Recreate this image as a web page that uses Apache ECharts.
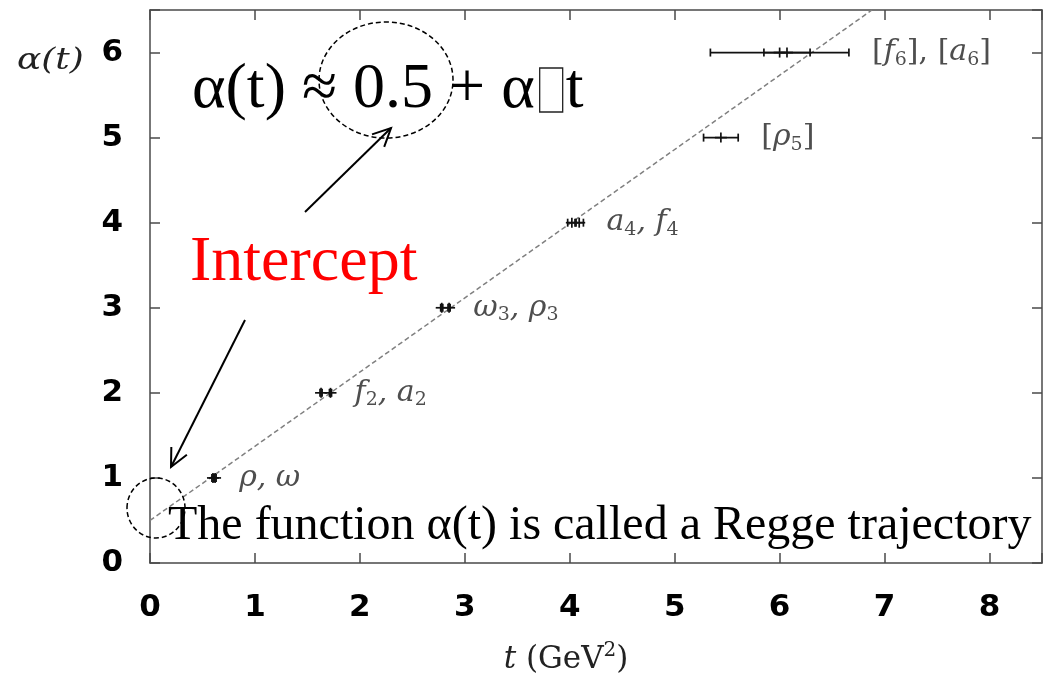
<!DOCTYPE html>
<html>
<head>
<meta charset="utf-8">
<script src="https://cdn.jsdelivr.net/npm/echarts@6/dist/echarts.min.js"></script>
<style>
  html, body { margin: 0; padding: 0; background: #fff; }
  #chart { width: 1051px; height: 677px; }
</style>
</head>
<body>
<div id="chart"></div>
<script>
// Axis ticks
const xTicks = [0, 1, 2, 3, 4, 5, 6, 7, 8];
const yTicks = [0, 1, 2, 3, 4, 5, 6];

// Mesons on the leading trajectory: spin J vs. mass squared t = m^2 (GeV^2)
const particles = ['ρ', 'ω', 'f2', 'a2', 'ω3', 'ρ3', 'a4', 'f4', 'ρ5', 'a6', 'f6'];
const spin      = [1, 1, 2, 2, 3, 3, 4, 4, 5, 6, 6];
const massSq    = [0.60, 0.62, 1.63, 1.72, 2.78, 2.85, 4.02, 4.09, 5.44, 6.00, 6.07];
const massSqErr = [0.01, 0.01, 0.01, 0.01, 0.01, 0.01, 0.04, 0.04, 0.165, 0.66, 0.22];

// Group labels, one per spin value (rich-text markup for subscripts)
const groupSpin   = [1, 2, 3, 4, 5, 6];
const groupLabels = [
  '{i|ρ, ω}',
  '{i|f}{s|2}{i|, a}{s|2}',
  '{i|ω}{s|3}{i|, ρ}{s|3}',
  '{i|a}{s|4}{i|, f}{s|4}',
  '{n|[}{i|ρ}{s|5}{n|]}',
  '{n|[}{i|f}{s|6}{n|], [}{i|a}{s|6}{n|]}'
];

// Linear trajectory, end points (t, alpha)
const fitLine = [[0, 0.5], [6.88, 6.5]];

const xRange = [0, 8.5];
const yRange = [0, 6.5];

// Label anchors: right end of each group's widest error bar
const labelAnchors = groupSpin.map((s, g) => {
  let right = -Infinity;
  spin.forEach((j, i) => { if (j === s) right = Math.max(right, massSq[i] + massSqErr[i]); });
  return { value: [right, s], labelText: groupLabels[g] };
});

const ink = '#111';
const frame = '#4a4a4a';
const mathInk = '#222';

function measure(text, font) {
  const ctx = document.createElement('canvas').getContext('2d');
  ctx.font = font;
  return ctx.measureText(text).width;
}

function arrow(x1, y1, x2, y2) {
  const a = Math.atan2(y2 - y1, x2 - x1);
  const len = 20, spread = 0.45;
  const w1 = [x2 - len * Math.cos(a - spread), y2 - len * Math.sin(a - spread)];
  const w2 = [x2 - len * Math.cos(a + spread), y2 - len * Math.sin(a + spread)];
  const st = { stroke: '#000', lineWidth: 2, fill: null };
  return [
    { type: 'line', shape: { x1, y1, x2, y2 }, style: st, z: 100 },
    { type: 'polyline', shape: { points: [w1, [x2, y2], w2] }, style: st, z: 100 }
  ];
}

const tickFmt = ticks => v => (ticks.indexOf(v) >= 0 ? String(v) : '');

const axisCommon = {
  type: 'value',
  splitLine: { show: false },
  axisLine: { show: true, onZero: false, lineStyle: { color: frame, width: 1.5 } },
  axisTick: { show: true, inside: true, length: 10, lineStyle: { color: frame, width: 1.5 } }
};

const tickLabelStyle = { fontFamily: 'DejaVu Sans', fontWeight: 'bold', fontSize: 31, color: '#000' };

const formulaFont = '64px "Liberation Serif"';
const formulaHead = 'α(t) ≈ 0.5 + α';
const formulaX = 192, formulaY = 90;
const headW = measure(formulaHead, formulaFont);

const chart = echarts.init(document.getElementById('chart'), null, { renderer: 'canvas' });

chart.setOption({
  animation: false,
  backgroundColor: '#fff',
  grid: { left: 150, right: 9, top: 10, bottom: 114 },
  xAxis: [
    Object.assign({}, axisCommon, {
      position: 'bottom', min: xRange[0], max: xRange[1], interval: 1,
      axisLabel: Object.assign({ formatter: tickFmt(xTicks), margin: 29 }, tickLabelStyle)
    }),
    Object.assign({}, axisCommon, {
      position: 'top', min: xRange[0], max: xRange[1], interval: 1,
      axisLabel: { show: false }
    })
  ],
  yAxis: [
    Object.assign({}, axisCommon, {
      position: 'left', min: yRange[0], max: yRange[1], interval: 1,
      axisLabel: Object.assign({ formatter: tickFmt(yTicks), margin: 27 }, tickLabelStyle)
    }),
    Object.assign({}, axisCommon, {
      position: 'right', min: yRange[0], max: yRange[1], interval: 1,
      axisLabel: { show: false }
    })
  ],
  series: [
    {
      type: 'line',
      data: fitLine,
      showSymbol: false,
      silent: true,
      lineStyle: { color: '#808080', width: 1.5, type: [5, 3] },
      z: 2
    },
    {
      type: 'custom',
      data: spin.map((s, i) => [massSq[i], s, massSqErr[i]]),
      encode: { x: 0, y: 1 },
      z: 5,
      renderItem(params, api) {
        const x = api.value(0), y = api.value(1), e = api.value(2);
        const c = api.coord([x, y]);
        const l = api.coord([x - e, y]);
        const r = api.coord([x + e, y]);
        const st = { stroke: ink, lineWidth: 1.7 };
        const cap = 4, arm = 6, tick = 5;
        return {
          type: 'group',
          children: [
            { type: 'line', shape: { x1: l[0], y1: l[1], x2: r[0], y2: r[1] }, style: st },
            { type: 'line', shape: { x1: l[0], y1: l[1] - cap, x2: l[0], y2: l[1] + cap }, style: st },
            { type: 'line', shape: { x1: r[0], y1: r[1] - cap, x2: r[0], y2: r[1] + cap }, style: st },
            { type: 'line', shape: { x1: c[0] - arm, y1: c[1], x2: c[0] + arm, y2: c[1] }, style: st },
            { type: 'line', shape: { x1: c[0], y1: c[1] - tick, x2: c[0], y2: c[1] + tick }, style: st }
          ]
        };
      }
    },
    {
      type: 'scatter',
      data: labelAnchors,
      symbolSize: 0.1,
      itemStyle: { color: 'transparent' },
      silent: true,
      z: 6,
      label: {
        show: true,
        position: 'right',
        distance: 23,
        formatter: p => p.data.labelText,
        rich: {
          i: { fontFamily: 'DejaVu Serif', fontStyle: 'italic', fontSize: 30, color: mathInk },
          n: { fontFamily: 'DejaVu Serif', fontSize: 30, color: mathInk },
          s: { fontFamily: 'DejaVu Serif', fontSize: 19, color: mathInk, padding: [15, 0, 0, 0] }
        }
      }
    }
  ],
  graphic: [
    // axis titles
    { type: 'text', x: 17, y: 61, scaleX: 1.2, style: { text: 'α(t)', font: 'italic 30px "DejaVu Serif"', fill: mathInk, verticalAlign: 'middle' } },
    {
      type: 'text', x: 566, y: 658,
      style: {
        text: '{i|t}{n| (GeV}{s|2}{n|)}', align: 'center', verticalAlign: 'middle',
        rich: {
          i: { fontFamily: 'DejaVu Serif', fontStyle: 'italic', fontSize: 31, fill: mathInk, lineHeight: 34, verticalAlign: 'bottom' },
          n: { fontFamily: 'DejaVu Serif', fontSize: 31, fill: mathInk, lineHeight: 34, verticalAlign: 'bottom' },
          s: { fontFamily: 'DejaVu Serif', fontSize: 20, fill: mathInk, lineHeight: 34, verticalAlign: 'top' }
        }
      }
    },
    // formula
    { type: 'text', x: formulaX, y: formulaY, z: 100, style: { text: formulaHead, font: formulaFont, fill: '#000', verticalAlign: 'middle' } },
    { type: 'rect', z: 100, shape: { x: formulaX + headW + 5, y: 68, width: 23, height: 44 }, style: { fill: null, stroke: '#222', lineWidth: 1.3 } },
    { type: 'text', x: formulaX + headW + 31, y: formulaY, z: 100, style: { text: 't', font: formulaFont, fill: '#000', verticalAlign: 'middle' } },
    // circle round the constant term
    { type: 'ellipse', z: 100, shape: { cx: 386, cy: 80, rx: 67, ry: 58 }, style: { fill: null, stroke: '#000', lineWidth: 1.5, lineDash: [5, 3] } },
    // circle round the intercept
    { type: 'ellipse', z: 100, shape: { cx: 156, cy: 508, rx: 29, ry: 30 }, style: { fill: null, stroke: '#000', lineWidth: 1.5, lineDash: [5, 3] } },
    { type: 'text', x: 190, y: 263, z: 100, style: { text: 'Intercept', font: '64px "Liberation Serif"', fill: '#ff0000', verticalAlign: 'middle' } },
    ...arrow(305, 212, 391, 128),
    ...arrow(245, 320, 171, 467),
    { type: 'text', x: 168, y: 526, z: 100, style: { text: 'The function α(t) is called a Regge trajectory', font: '48px "Liberation Serif"', fill: '#000', verticalAlign: 'middle' } }
  ]
});
</script>
</body>
</html>
